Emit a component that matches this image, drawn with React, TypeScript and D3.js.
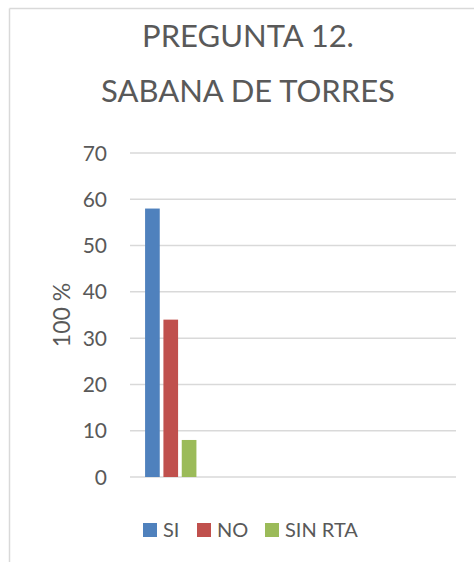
import React from "react";
import * as d3 from "d3";

const categories = ["1", "2", "3", "4"];
const series = ["SI", "NO", "SIN RTA"];
const values = [58, 34, 8];
const colors = ["#4F81BD", "#C0504D", "#9BBB59"];
const yTicks = [0, 10, 20, 30, 40, 50, 60, 70];
const titleLines = ["PREGUNTA 12.", "SABANA DE TORRES"];
const yLabel = "100 %";

const W = 474;
const H = 562;
const FONT = "Lato, 'Open Sans', sans-serif";
const TXT = "#595959";

export default function App() {
  const x = d3.scaleBand<string>().domain(categories).range([130, 456]).padding(0);
  const y = d3.scaleLinear().domain([0, 70]).range([477, 153]);
  const bw = x.bandwidth();
  const inner = d3
    .scaleBand<string>()
    .domain(series)
    .range([bw * 0.185, bw * 0.815])
    .paddingInner(0.2)
    .paddingOuter(0);
  const gx = x(categories[0]) ?? 0;

  const legendItems = [
    { label: series[0], sq: 143, tx: 163 },
    { label: series[1], sq: 197, tx: 217 },
    { label: series[2], sq: 265, tx: 285 },
  ];

  return (
    <svg
      width={W}
      height={H}
      style={{ position: "absolute", left: 0, top: 0, background: "#fff" }}
      fontFamily={FONT}
    >
      <rect x={0} y={0} width={W} height={H} fill="#fff" />
      <line x1={9.5} y1={8.5} x2={W} y2={8.5} stroke="#D9D9D9" strokeWidth={1.5} />
      <line x1={9.5} y1={8.5} x2={9.5} y2={H} stroke="#D9D9D9" strokeWidth={1.5} />

      {titleLines.map((t, i) => (
        <text
          key={t}
          x={248}
          y={47 + i * 55}
          textAnchor="middle"
          fontSize={31}
          fill={TXT}
        >
          {t}
        </text>
      ))}

      {yTicks.map((t) => (
        <g key={t}>
          <line
            x1={130}
            x2={456}
            y1={y(t)}
            y2={y(t)}
            stroke="#D9D9D9"
            strokeWidth={1.5}
          />
          <text
            x={107}
            y={y(t)}
            dy="0.36em"
            textAnchor="end"
            fontSize={21}
            fill={TXT}
          >
            {t}
          </text>
        </g>
      ))}

      <text
        transform={`translate(70,315) rotate(-90)`}
        textAnchor="middle"
        fontSize={23}
        fill={TXT}
      >
        {yLabel}
      </text>

      {series.map((s, i) => (
        <rect
          key={s}
          x={gx + (inner(s) ?? 0)}
          y={y(values[i])}
          width={inner.bandwidth()}
          height={y(0) - y(values[i])}
          fill={colors[i]}
        />
      ))}

      {legendItems.map((it, i) => (
        <g key={it.label}>
          <rect x={it.sq} y={523} width={14} height={14} fill={colors[i]} />
          <text x={it.tx} y={537} fontSize={20} fill={TXT}>
            {it.label}
          </text>
        </g>
      ))}
    </svg>
  );
}
